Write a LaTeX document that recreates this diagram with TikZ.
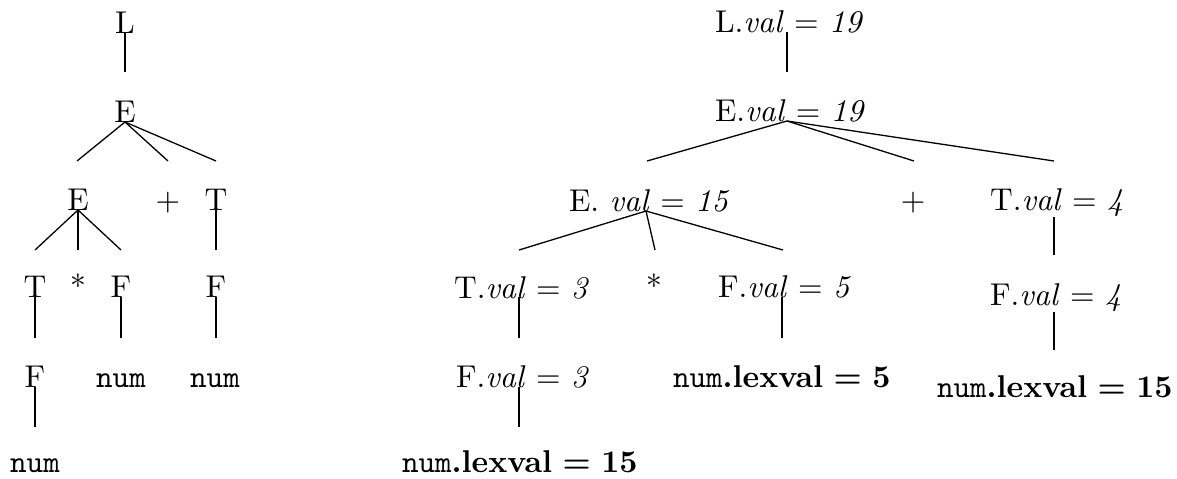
\documentclass[tikz,border=0pt]{standalone}
\usepackage{fontspec}
\setmainfont{lmroman10}[Extension=.otf, UprightFont=*-regular, BoldFont=*-bold, ItalicFont=*-italic, BoldItalicFont=*-bolditalic]
\setmonofont{lmmono10}[Extension=.otf, UprightFont=*-regular]
\newcommand{\myeq}{\hspace{0.333em}=\hspace{0.333em}}
\begin{document}
\begin{tikzpicture}[x=0.5pt,y=-0.5pt,
  lbl/.style={inner sep=0pt,outer sep=0pt,font=\fontsize{15.75pt}{19pt}\selectfont},
  lb/.style={lbl,anchor=base},
  lw/.style={lbl,anchor=base west},
  edge/.style={line width=0.65pt}]
\useasboundingbox (0,0) rectangle (1177,478);
% ---------------- left tree ----------------
\node[lb] (L)  at (125,33)  {L};
\node[lb] (E1) at (125,122) {E};
\node[lb] (E2) at (78,210)  {E};
\node[lb] (P1) at (168,210) {+};
\node[lb] (T1) at (216,210) {T};
\node[lb] (T2) at (35,297)  {T};
\node[lb] (S1) at (78,297)  {*};
\node[lb] (F1) at (121,297) {F};
\node[lb] (F2) at (216,297) {F};
\node[lb] (F3) at (35,387)  {F};
\node[lb] (N1) at (121,387) {\texttt{num}};
\node[lb] (N2) at (215,387) {\texttt{num}};
\node[lb] (N3) at (35,472)  {\texttt{num}};
\coordinate (a0) at (125,33);  \coordinate (a1) at (125,72);
\coordinate (b0) at (125,122);
\coordinate (b1) at (77,161);  \coordinate (b2) at (168,161); \coordinate (b3) at (216,161);
\coordinate (c0) at (78,210);
\coordinate (c1) at (35,250);  \coordinate (c2) at (78,250);  \coordinate (c3) at (121,250);
\coordinate (d0) at (216,210); \coordinate (d1) at (216,250);
\coordinate (e0) at (35,297);  \coordinate (e1) at (35,338);
\coordinate (f0) at (121,297); \coordinate (f1) at (121,338);
\coordinate (g0) at (216,297); \coordinate (g1) at (216,338);
\coordinate (h0) at (35,387);  \coordinate (h1) at (35,427);
\draw[edge] (a0) -- (a1);
\draw[edge] (b0) -- (b1); \draw[edge] (b0) -- (b2); \draw[edge] (b0) -- (b3);
\draw[edge] (c0) -- (c1); \draw[edge] (c0) -- (c2); \draw[edge] (c0) -- (c3);
\draw[edge] (d0) -- (d1);
\draw[edge] (e0) -- (e1);
\draw[edge] (f0) -- (f1);
\draw[edge] (g0) -- (g1);
\draw[edge] (h0) -- (h1);
% ---------------- right tree ----------------
\node[lw] (RL)  at (715,32)  {L.\textit{val}\myeq\textit{19}};
\node[lw] (RE1) at (715,121) {E.\textit{val}\myeq\textit{19}};
\node[lw] (RE2) at (569,211) {E. \textit{val}\myeq\textit{15}};
\node[lb] (RP)  at (913,210) {+};
\node[lw] (RT1) at (990,210) {T.\textit{val}\myeq\textit{4}};
\node[lw] (RT2) at (454,298) {T.\textit{val}\myeq\textit{3}};
\node[lb] (RS)  at (654,297) {*};
\node[lw] (RF1) at (718,297) {F.\textit{val}\myeq\textit{5}};
\node[lw] (RF2) at (456,387) {F.\textit{val}\myeq\textit{3}};
\node[lw] (RN1) at (673,387) {\texttt{num}\textbf{.lexval\myeq 5}};
\node[lw] (RF3) at (990,305) {F.\textit{val}\myeq\textit{4}};
\node[lw] (RN2) at (937,397) {\texttt{num}\textbf{.lexval\myeq 15}};
\node[lw] (RN3) at (402,472) {\texttt{num}\textbf{.lexval\myeq 15}};
\coordinate (p0) at (787,32);  \coordinate (p1) at (787,72);
\coordinate (q0) at (787,121);
\coordinate (q1) at (647,161); \coordinate (q2) at (914,161); \coordinate (q3) at (1054,161);
\coordinate (r0) at (646,211);
\coordinate (r1) at (519,250); \coordinate (r2) at (655,250); \coordinate (r3) at (783,250);
\coordinate (s0) at (1054,217); \coordinate (s1) at (1054,255);
\coordinate (t0) at (519,297); \coordinate (t1) at (519,338);
\coordinate (u0) at (782,297); \coordinate (u1) at (782,338);
\coordinate (v0) at (519,387); \coordinate (v1) at (519,427);
\coordinate (w0) at (1054,312); \coordinate (w1) at (1054,350);
\draw[edge] (p0) -- (p1);
\draw[edge] (q0) -- (q1); \draw[edge] (q0) -- (q2); \draw[edge] (q0) -- (q3);
\draw[edge] (r0) -- (r1); \draw[edge] (r0) -- (r2); \draw[edge] (r0) -- (r3);
\draw[edge] (s0) -- (s1);
\draw[edge] (t0) -- (t1);
\draw[edge] (u0) -- (u1);
\draw[edge] (v0) -- (v1);
\draw[edge] (w0) -- (w1);
\end{tikzpicture}
\end{document}
